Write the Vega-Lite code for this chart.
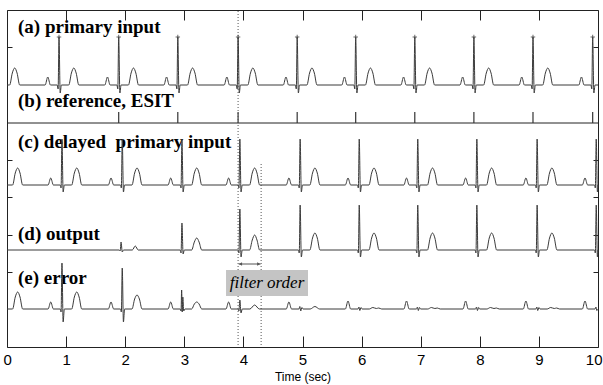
{
  "$schema": "https://vega.github.io/schema/vega-lite/v6.json",
  "width": 591,
  "height": 337,
  "autosize": {"type": "none"},
  "padding": {"left": 7, "top": 10, "right": 5, "bottom": 38},
  "background": "white",
  "config": {"view": {"stroke": "#222", "strokeWidth": 1}},
  "datasets": {
    "a": [
      {"t":0,"v":0},{"t":0.045,"v":0},{"t":0.09,"v":1.2},{"t":0.13,"v":1.7},{"t":0.17,"v":1.2},{"t":0.215,"v":0},
      {"t":0.645,"v":0},{"t":0.69,"v":0.8},{"t":0.735,"v":0},{"t":0.85,"v":0},{"t":0.865,"v":-0.4},{"t":0.88,"v":4.8},{"t":0.9,"v":-0.8},{"t":0.92,"v":0},{"t":1.045,"v":0},{"t":1.09,"v":1.2},{"t":1.13,"v":1.7},{"t":1.17,"v":1.2},{"t":1.215,"v":0},
      {"t":1.655,"v":0},{"t":1.7,"v":0.8},{"t":1.745,"v":0},{"t":1.86,"v":0},{"t":1.875,"v":-0.4},{"t":1.89,"v":4.8},{"t":1.91,"v":-0.8},{"t":1.93,"v":0},{"t":2.055,"v":0},{"t":2.1,"v":1.2},{"t":2.14,"v":1.7},{"t":2.18,"v":1.2},{"t":2.225,"v":0},
      {"t":2.655,"v":0},{"t":2.7,"v":0.8},{"t":2.745,"v":0},{"t":2.86,"v":0},{"t":2.875,"v":-0.4},{"t":2.89,"v":4.8},{"t":2.91,"v":-0.8},{"t":2.93,"v":0},{"t":3.055,"v":0},{"t":3.1,"v":1.2},{"t":3.14,"v":1.7},{"t":3.18,"v":1.2},{"t":3.225,"v":0},
      {"t":3.675,"v":0},{"t":3.72,"v":0.8},{"t":3.765,"v":0},{"t":3.88,"v":0},{"t":3.895,"v":-0.4},{"t":3.91,"v":4.8},{"t":3.93,"v":-0.8},{"t":3.95,"v":0},{"t":4.075,"v":0},{"t":4.12,"v":1.2},{"t":4.16,"v":1.7},{"t":4.2,"v":1.2},{"t":4.245,"v":0},
      {"t":4.675,"v":0},{"t":4.72,"v":0.8},{"t":4.765,"v":0},{"t":4.88,"v":0},{"t":4.895,"v":-0.4},{"t":4.91,"v":4.8},{"t":4.93,"v":-0.8},{"t":4.95,"v":0},{"t":5.075,"v":0},{"t":5.12,"v":1.2},{"t":5.16,"v":1.7},{"t":5.2,"v":1.2},{"t":5.245,"v":0},
      {"t":5.665,"v":0},{"t":5.71,"v":0.8},{"t":5.755,"v":0},{"t":5.87,"v":0},{"t":5.885,"v":-0.4},{"t":5.9,"v":4.8},{"t":5.92,"v":-0.8},{"t":5.94,"v":0},{"t":6.065,"v":0},{"t":6.11,"v":1.2},{"t":6.15,"v":1.7},{"t":6.19,"v":1.2},{"t":6.235,"v":0},
      {"t":6.665,"v":0},{"t":6.71,"v":0.8},{"t":6.755,"v":0},{"t":6.87,"v":0},{"t":6.885,"v":-0.4},{"t":6.9,"v":4.8},{"t":6.92,"v":-0.8},{"t":6.94,"v":0},{"t":7.065,"v":0},{"t":7.11,"v":1.2},{"t":7.15,"v":1.7},{"t":7.19,"v":1.2},{"t":7.235,"v":0},
      {"t":7.665,"v":0},{"t":7.71,"v":0.8},{"t":7.755,"v":0},{"t":7.87,"v":0},{"t":7.885,"v":-0.4},{"t":7.9,"v":4.8},{"t":7.92,"v":-0.8},{"t":7.94,"v":0},{"t":8.065,"v":0},{"t":8.11,"v":1.2},{"t":8.15,"v":1.7},{"t":8.19,"v":1.2},{"t":8.235,"v":0},
      {"t":8.665,"v":0},{"t":8.71,"v":0.8},{"t":8.755,"v":0},{"t":8.87,"v":0},{"t":8.885,"v":-0.4},{"t":8.9,"v":4.8},{"t":8.92,"v":-0.8},{"t":8.94,"v":0},{"t":9.065,"v":0},{"t":9.11,"v":1.2},{"t":9.15,"v":1.7},{"t":9.19,"v":1.2},{"t":9.235,"v":0},
      {"t":9.675,"v":0},{"t":9.72,"v":0.8},{"t":9.765,"v":0},{"t":9.88,"v":0},{"t":9.895,"v":-0.4},{"t":9.91,"v":4.8},{"t":9.93,"v":-0.8},{"t":9.95,"v":0},{"t":10,"v":0}
    ],
    "rA": [
      {"t":0.88,"v":4.8},{"t":1.89,"v":4.8},{"t":2.89,"v":4.8},{"t":3.91,"v":4.8},{"t":4.91,"v":4.8},
      {"t":5.9,"v":4.8},{"t":6.9,"v":4.8},{"t":7.9,"v":4.8},{"t":8.9,"v":4.8},{"t":9.91,"v":4.8}
    ],
    "b": [
      {"t":1.89},{"t":2.89},{"t":3.91},{"t":4.91},{"t":5.9},{"t":6.9},{"t":7.9},{"t":8.9},{"t":9.91}
    ],
    "c": [
      {"t":0,"v":0},{"t":0.095,"v":0},{"t":0.14,"v":1.2},{"t":0.18,"v":1.7},{"t":0.22,"v":1.2},{"t":0.265,"v":0},
      {"t":0.695,"v":0},{"t":0.74,"v":0.7},{"t":0.785,"v":0},{"t":0.9,"v":0},{"t":0.915,"v":-0.3},{"t":0.93,"v":4.6},{"t":0.95,"v":-0.7},{"t":0.97,"v":0},{"t":1.095,"v":0},{"t":1.14,"v":1.2},{"t":1.18,"v":1.7},{"t":1.22,"v":1.2},{"t":1.265,"v":0},
      {"t":1.715,"v":0},{"t":1.76,"v":0.7},{"t":1.805,"v":0},{"t":1.92,"v":0},{"t":1.935,"v":-0.3},{"t":1.95,"v":4.6},{"t":1.97,"v":-0.7},{"t":1.99,"v":0},{"t":2.115,"v":0},{"t":2.16,"v":1.2},{"t":2.2,"v":1.7},{"t":2.24,"v":1.2},{"t":2.285,"v":0},
      {"t":2.725,"v":0},{"t":2.77,"v":0.7},{"t":2.815,"v":0},{"t":2.93,"v":0},{"t":2.945,"v":-0.3},{"t":2.96,"v":4.6},{"t":2.98,"v":-0.7},{"t":3.0,"v":0},{"t":3.125,"v":0},{"t":3.17,"v":1.2},{"t":3.21,"v":1.7},{"t":3.25,"v":1.2},{"t":3.295,"v":0},
      {"t":3.705,"v":0},{"t":3.75,"v":0.7},{"t":3.795,"v":0},{"t":3.91,"v":0},{"t":3.925,"v":-0.3},{"t":3.94,"v":4.6},{"t":3.96,"v":-0.7},{"t":3.98,"v":0},{"t":4.105,"v":0},{"t":4.15,"v":1.2},{"t":4.19,"v":1.7},{"t":4.23,"v":1.2},{"t":4.275,"v":0},
      {"t":4.725,"v":0},{"t":4.77,"v":0.7},{"t":4.815,"v":0},{"t":4.93,"v":0},{"t":4.945,"v":-0.3},{"t":4.96,"v":4.6},{"t":4.98,"v":-0.7},{"t":5.0,"v":0},{"t":5.125,"v":0},{"t":5.17,"v":1.2},{"t":5.21,"v":1.7},{"t":5.25,"v":1.2},{"t":5.295,"v":0},
      {"t":5.725,"v":0},{"t":5.77,"v":0.7},{"t":5.815,"v":0},{"t":5.93,"v":0},{"t":5.945,"v":-0.3},{"t":5.96,"v":4.6},{"t":5.98,"v":-0.7},{"t":6.0,"v":0},{"t":6.125,"v":0},{"t":6.17,"v":1.2},{"t":6.21,"v":1.7},{"t":6.25,"v":1.2},{"t":6.295,"v":0},
      {"t":6.715,"v":0},{"t":6.76,"v":0.7},{"t":6.805,"v":0},{"t":6.92,"v":0},{"t":6.935,"v":-0.3},{"t":6.95,"v":4.6},{"t":6.97,"v":-0.7},{"t":6.99,"v":0},{"t":7.115,"v":0},{"t":7.16,"v":1.2},{"t":7.2,"v":1.7},{"t":7.24,"v":1.2},{"t":7.285,"v":0},
      {"t":7.715,"v":0},{"t":7.76,"v":0.7},{"t":7.805,"v":0},{"t":7.92,"v":0},{"t":7.935,"v":-0.3},{"t":7.95,"v":4.6},{"t":7.97,"v":-0.7},{"t":7.99,"v":0},{"t":8.115,"v":0},{"t":8.16,"v":1.2},{"t":8.2,"v":1.7},{"t":8.24,"v":1.2},{"t":8.285,"v":0},
      {"t":8.735,"v":0},{"t":8.78,"v":0.7},{"t":8.825,"v":0},{"t":8.94,"v":0},{"t":8.955,"v":-0.3},{"t":8.97,"v":4.6},{"t":8.99,"v":-0.7},{"t":9.01,"v":0},{"t":9.135,"v":0},{"t":9.18,"v":1.2},{"t":9.22,"v":1.7},{"t":9.26,"v":1.2},{"t":9.305,"v":0},
      {"t":9.735,"v":0},{"t":9.78,"v":0.7},{"t":9.825,"v":0},{"t":9.94,"v":0},{"t":9.955,"v":-0.3},{"t":9.97,"v":4.6},{"t":9.99,"v":-0.7},{"t":10,"v":0}
    ],
    "d": [
      {"t":0,"v":0},{"t":1.9,"v":0},{"t":1.915,"v":-0.1},{"t":1.93,"v":0.8},{"t":1.95,"v":-0.2},{"t":1.97,"v":0},{"t":2.12,"v":0},{"t":2.17,"v":0.4},{"t":2.22,"v":0},
      {"t":2.93,"v":0},{"t":2.945,"v":-0.3},{"t":2.96,"v":2.7},{"t":2.98,"v":-0.4},{"t":3.0,"v":0},{"t":3.125,"v":0},{"t":3.17,"v":0.8},{"t":3.21,"v":1.2},{"t":3.25,"v":0.8},{"t":3.295,"v":0},
      {"t":3.91,"v":0},{"t":3.925,"v":-0.3},{"t":3.94,"v":4.1},{"t":3.96,"v":-0.7},{"t":3.98,"v":0},{"t":4.105,"v":0},{"t":4.15,"v":1.0},{"t":4.19,"v":1.5},{"t":4.23,"v":1.0},{"t":4.275,"v":0},
      {"t":4.93,"v":0},{"t":4.945,"v":-0.3},{"t":4.96,"v":4.5},{"t":4.98,"v":-0.7},{"t":5.0,"v":0},{"t":5.125,"v":0},{"t":5.17,"v":1.2},{"t":5.21,"v":1.7},{"t":5.25,"v":1.2},{"t":5.295,"v":0},
      {"t":5.93,"v":0},{"t":5.945,"v":-0.3},{"t":5.96,"v":4.5},{"t":5.98,"v":-0.7},{"t":6.0,"v":0},{"t":6.125,"v":0},{"t":6.17,"v":1.2},{"t":6.21,"v":1.7},{"t":6.25,"v":1.2},{"t":6.295,"v":0},
      {"t":6.92,"v":0},{"t":6.935,"v":-0.3},{"t":6.95,"v":4.5},{"t":6.97,"v":-0.7},{"t":6.99,"v":0},{"t":7.115,"v":0},{"t":7.16,"v":1.2},{"t":7.2,"v":1.7},{"t":7.24,"v":1.2},{"t":7.285,"v":0},
      {"t":7.92,"v":0},{"t":7.935,"v":-0.3},{"t":7.95,"v":4.5},{"t":7.97,"v":-0.7},{"t":7.99,"v":0},{"t":8.115,"v":0},{"t":8.16,"v":1.2},{"t":8.2,"v":1.7},{"t":8.24,"v":1.2},{"t":8.285,"v":0},
      {"t":8.94,"v":0},{"t":8.955,"v":-0.3},{"t":8.97,"v":4.5},{"t":8.99,"v":-0.7},{"t":9.01,"v":0},{"t":9.135,"v":0},{"t":9.18,"v":1.2},{"t":9.22,"v":1.7},{"t":9.26,"v":1.2},{"t":9.305,"v":0},
      {"t":9.94,"v":0},{"t":9.955,"v":-0.3},{"t":9.97,"v":4.5},{"t":9.99,"v":-0.7},{"t":10,"v":0}
    ],
    "e": [
      {"t":0,"v":0},{"t":0.095,"v":0},{"t":0.14,"v":1.2},{"t":0.18,"v":1.7},{"t":0.22,"v":1.2},{"t":0.265,"v":0},
      {"t":0.695,"v":0},{"t":0.74,"v":0.7},{"t":0.785,"v":0},{"t":0.9,"v":0},{"t":0.915,"v":-0.3},{"t":0.93,"v":4.6},{"t":0.95,"v":-1.3},{"t":0.97,"v":0},{"t":1.095,"v":0},{"t":1.14,"v":1.2},{"t":1.18,"v":1.7},{"t":1.22,"v":1.2},{"t":1.265,"v":0},
      {"t":1.715,"v":0},{"t":1.76,"v":0.7},{"t":1.805,"v":0},{"t":1.92,"v":0},{"t":1.935,"v":-0.3},{"t":1.95,"v":4.1},{"t":1.97,"v":-1.3},{"t":1.99,"v":0},{"t":2.115,"v":0},{"t":2.16,"v":1.0},{"t":2.2,"v":1.4},{"t":2.24,"v":1.0},{"t":2.285,"v":0},
      {"t":2.725,"v":0},{"t":2.77,"v":0.7},{"t":2.815,"v":0},{"t":2.93,"v":0},{"t":2.945,"v":-0.2},{"t":2.955,"v":1.9},{"t":2.965,"v":-0.3},{"t":2.975,"v":1.2},{"t":2.99,"v":-0.2},{"t":3.01,"v":0},{"t":3.125,"v":0},{"t":3.17,"v":0.5},{"t":3.21,"v":0.7},{"t":3.25,"v":0.5},{"t":3.295,"v":0},
      {"t":3.705,"v":0},{"t":3.75,"v":0.7},{"t":3.795,"v":0},{"t":3.91,"v":0},{"t":3.925,"v":-0.2},{"t":3.94,"v":0.9},{"t":3.96,"v":-0.4},{"t":3.98,"v":0},{"t":4.11,"v":0},{"t":4.19,"v":0.4},{"t":4.27,"v":0},
      {"t":4.725,"v":0},{"t":4.77,"v":0.7},{"t":4.815,"v":0},{"t":4.94,"v":0},{"t":4.955,"v":0.25},{"t":4.97,"v":-0.2},{"t":4.99,"v":0.15},{"t":5.01,"v":0},{"t":5.13,"v":0},{"t":5.21,"v":0.25},{"t":5.29,"v":0},
      {"t":5.725,"v":0},{"t":5.77,"v":0.8},{"t":5.815,"v":0},{"t":5.94,"v":0},{"t":5.955,"v":0.2},{"t":5.97,"v":-0.15},{"t":5.99,"v":0.15},{"t":6.01,"v":0},{"t":6.13,"v":0},{"t":6.19,"v":0.15},{"t":6.25,"v":0.05},{"t":6.29,"v":0.1},{"t":6.34,"v":0},
      {"t":6.715,"v":0},{"t":6.76,"v":0.8},{"t":6.805,"v":0},{"t":6.93,"v":0},{"t":6.945,"v":0.2},{"t":6.96,"v":-0.15},{"t":6.98,"v":0.15},{"t":7.0,"v":0},{"t":7.12,"v":0},{"t":7.18,"v":0.15},{"t":7.24,"v":0.05},{"t":7.28,"v":0.1},{"t":7.33,"v":0},
      {"t":7.715,"v":0},{"t":7.76,"v":0.8},{"t":7.805,"v":0},{"t":7.93,"v":0},{"t":7.945,"v":0.2},{"t":7.96,"v":-0.15},{"t":7.98,"v":0.15},{"t":8.0,"v":0},{"t":8.12,"v":0},{"t":8.18,"v":0.15},{"t":8.24,"v":0.05},{"t":8.28,"v":0.1},{"t":8.33,"v":0},
      {"t":8.735,"v":0},{"t":8.78,"v":0.8},{"t":8.825,"v":0},{"t":8.95,"v":0},{"t":8.965,"v":0.2},{"t":8.98,"v":-0.15},{"t":9.0,"v":0.15},{"t":9.02,"v":0},{"t":9.14,"v":0},{"t":9.2,"v":0.15},{"t":9.26,"v":0.05},{"t":9.3,"v":0.1},{"t":9.35,"v":0},
      {"t":9.735,"v":0},{"t":9.78,"v":0.8},{"t":9.825,"v":0},{"t":9.95,"v":0},{"t":9.965,"v":0.2},{"t":9.98,"v":-0.15},{"t":10,"v":0}
    ]
  },
  "resolve": {"scale": {"y": "independent"}, "axis": {"x": "independent", "y": "independent"}},
  "layer": [
    {
      "data": {"values": [{}]},
      "mark": {"type": "rule", "color": "#222", "strokeWidth": 1},
      "encoding": {
        "x": {"datum": 0, "type": "quantitative", "scale": {"domain": [0, 10], "nice": false, "zero": false},
          "axis": {"orient": "bottom", "values": [0,1,2,3,4,5,6,7,8,9,10], "tickSize": -11, "tickColor": "#222", "domain": false, "grid": false, "labelFlush": true, "labelFlushOffset": 4, "labelOverlap": false,
            "labelFont": "Liberation Sans Narrow, Arial Narrow, Liberation Sans, sans-serif", "labelFontSize": 15, "labelColor": "#000", "labelPadding": 16,
            "title": "Time (sec)", "titleFont": "Liberation Sans Narrow, Arial Narrow, Liberation Sans, sans-serif", "titleFontSize": 12, "titleFontWeight": "normal", "titleColor": "#000", "titlePadding": 4}},
        "x2": {"datum": 10},
        "y": {"datum": 22.4, "type": "quantitative", "scale": {"domain": [0, 33.7], "nice": false, "zero": false},
          "axis": {"orient": "left", "values": [7.5, 11.25, 15, 18.75, 30], "tickSize": -5, "tickColor": "#222", "labels": false, "domain": false, "grid": false, "title": null}}
      }
    },
    {
      "data": {"name": "b"},
      "mark": {"type": "rule", "color": "#333", "strokeWidth": 1.2},
      "encoding": {
        "x": {"field": "t", "type": "quantitative", "scale": {"domain": [0, 10], "nice": false, "zero": false},
          "axis": {"orient": "top", "values": [0,1,2,3,4,5,6,7,8,9,10], "tickSize": -10, "tickColor": "#222", "labels": false, "domain": false, "grid": false, "title": null}},
        "y": {"datum": 22.4, "type": "quantitative", "scale": {"domain": [0, 33.7], "nice": false, "zero": false},
          "axis": {"orient": "right", "values": [7.5, 11.25, 15, 18.75, 30], "tickSize": -5, "tickColor": "#222", "labels": false, "domain": false, "grid": false, "title": null}},
        "y2": {"datum": 23.5}
      }
    },
    {
      "data": {"values": [{}]},
      "layer": [
        {
          "mark": {"type": "rule", "color": "#555", "strokeWidth": 1, "strokeDash": [1, 2]},
          "encoding": {
            "x": {"datum": 3.91, "type": "quantitative", "scale": {"domain": [0, 10], "nice": false, "zero": false}, "axis": null},
            "y": {"datum": 0.2, "type": "quantitative", "scale": {"domain": [0, 33.7], "nice": false, "zero": false}, "axis": null},
            "y2": {"datum": 33.7}
          }
        },
        {
          "mark": {"type": "rule", "color": "#555", "strokeWidth": 1, "strokeDash": [1, 2]},
          "encoding": {
            "x": {"datum": 4.3, "type": "quantitative", "axis": null},
            "y": {"datum": 0.2, "type": "quantitative", "axis": null},
            "y2": {"datum": 18.4}
          }
        },
        {
          "mark": {"type": "rule", "color": "#555", "strokeWidth": 1},
          "encoding": {
            "x": {"datum": 3.92, "type": "quantitative", "axis": null},
            "x2": {"datum": 4.29},
            "y": {"datum": 8.3, "type": "quantitative", "axis": null}
          }
        },
        {
          "mark": {"type": "point", "shape": "triangle-left", "filled": true, "color": "#555", "size": 14, "opacity": 1},
          "encoding": {
            "x": {"datum": 3.95, "type": "quantitative", "axis": null},
            "y": {"datum": 8.3, "type": "quantitative", "axis": null}
          }
        },
        {
          "mark": {"type": "point", "shape": "triangle-right", "filled": true, "color": "#555", "size": 14, "opacity": 1},
          "encoding": {
            "x": {"datum": 4.26, "type": "quantitative", "axis": null},
            "y": {"datum": 8.3, "type": "quantitative", "axis": null}
          }
        },
        {
          "mark": {"type": "rect", "color": "#c4c4c4"},
          "encoding": {
            "x": {"datum": 3.706, "type": "quantitative", "axis": null},
            "x2": {"datum": 5.093},
            "y": {"datum": 5.1, "type": "quantitative", "axis": null},
            "y2": {"datum": 7.7}
          }
        },
        {
          "mark": {"type": "text", "text": "filter order", "font": "Liberation Serif", "fontStyle": "italic", "fontSize": 17, "color": "#000", "align": "center", "baseline": "middle"},
          "encoding": {
            "x": {"datum": 4.4, "type": "quantitative", "axis": null},
            "y": {"datum": 6.4, "type": "quantitative", "axis": null}
          }
        },
        {
          "mark": {"type": "text", "text": "(a) primary input", "font": "Liberation Serif", "fontWeight": "bold", "fontSize": 19, "color": "#000", "align": "left", "baseline": "alphabetic"},
          "encoding": {
            "x": {"datum": 0.186, "type": "quantitative", "axis": null},
            "y": {"datum": 31.4, "type": "quantitative", "axis": null}
          }
        },
        {
          "mark": {"type": "text", "text": "(b) reference, ESIT", "font": "Liberation Serif", "fontWeight": "bold", "fontSize": 19, "color": "#000", "align": "left", "baseline": "alphabetic"},
          "encoding": {
            "x": {"datum": 0.186, "type": "quantitative", "axis": null},
            "y": {"datum": 24.0, "type": "quantitative", "axis": null}
          }
        },
        {
          "mark": {"type": "text", "text": "(c) delayed\u00a0 primary input", "font": "Liberation Serif", "fontWeight": "bold", "fontSize": 19, "color": "#000", "align": "left", "baseline": "alphabetic"},
          "encoding": {
            "x": {"datum": 0.186, "type": "quantitative", "axis": null},
            "y": {"datum": 19.9, "type": "quantitative", "axis": null}
          }
        },
        {
          "mark": {"type": "text", "text": "(d) output", "font": "Liberation Serif", "fontWeight": "bold", "fontSize": 19, "color": "#000", "align": "left", "baseline": "alphabetic"},
          "encoding": {
            "x": {"datum": 0.186, "type": "quantitative", "axis": null},
            "y": {"datum": 10.7, "type": "quantitative", "axis": null}
          }
        },
        {
          "mark": {"type": "text", "text": "(e) error", "font": "Liberation Serif", "fontWeight": "bold", "fontSize": 19, "color": "#000", "align": "left", "baseline": "alphabetic"},
          "encoding": {
            "x": {"datum": 0.186, "type": "quantitative", "axis": null},
            "y": {"datum": 6.3, "type": "quantitative", "axis": null}
          }
        }
      ]
    },
    {
      "data": {"name": "a"},
      "mark": {"type": "line", "interpolate": "monotone", "color": "#3a3a3a", "strokeWidth": 1},
      "encoding": {
        "x": {"field": "t", "type": "quantitative", "scale": {"domain": [0, 10], "nice": false, "zero": false}, "axis": null},
        "y": {"field": "v", "type": "quantitative", "scale": {"domain": [-26.2, 7.5], "nice": false, "zero": false}, "axis": null}
      }
    },
    {
      "data": {"name": "rA"},
      "mark": {"type": "point", "shape": "M-1,0L1,0M0,-1L0,1", "filled": false, "color": "#444", "strokeWidth": 0.8, "size": 20, "opacity": 1},
      "encoding": {
        "x": {"field": "t", "type": "quantitative", "scale": {"domain": [0, 10], "nice": false, "zero": false}, "axis": null},
        "y": {"field": "v", "type": "quantitative", "scale": {"domain": [-26.2, 7.5], "nice": false, "zero": false}, "axis": null}
      }
    },
    {
      "data": {"name": "c"},
      "mark": {"type": "line", "interpolate": "monotone", "color": "#3a3a3a", "strokeWidth": 1},
      "encoding": {
        "x": {"field": "t", "type": "quantitative", "scale": {"domain": [0, 10], "nice": false, "zero": false}, "axis": null},
        "y": {"field": "v", "type": "quantitative", "scale": {"domain": [-16.2, 17.5], "nice": false, "zero": false}, "axis": null}
      }
    },
    {
      "data": {"name": "d"},
      "mark": {"type": "line", "interpolate": "monotone", "color": "#3a3a3a", "strokeWidth": 1},
      "encoding": {
        "x": {"field": "t", "type": "quantitative", "scale": {"domain": [0, 10], "nice": false, "zero": false}, "axis": null},
        "y": {"field": "v", "type": "quantitative", "scale": {"domain": [-9.7, 24.0], "nice": false, "zero": false}, "axis": null}
      }
    },
    {
      "data": {"name": "e"},
      "mark": {"type": "line", "interpolate": "monotone", "color": "#3a3a3a", "strokeWidth": 1},
      "encoding": {
        "x": {"field": "t", "type": "quantitative", "scale": {"domain": [0, 10], "nice": false, "zero": false}, "axis": null},
        "y": {"field": "v", "type": "quantitative", "scale": {"domain": [-3.8, 29.9], "nice": false, "zero": false}, "axis": null}
      }
    }
  ]
}
